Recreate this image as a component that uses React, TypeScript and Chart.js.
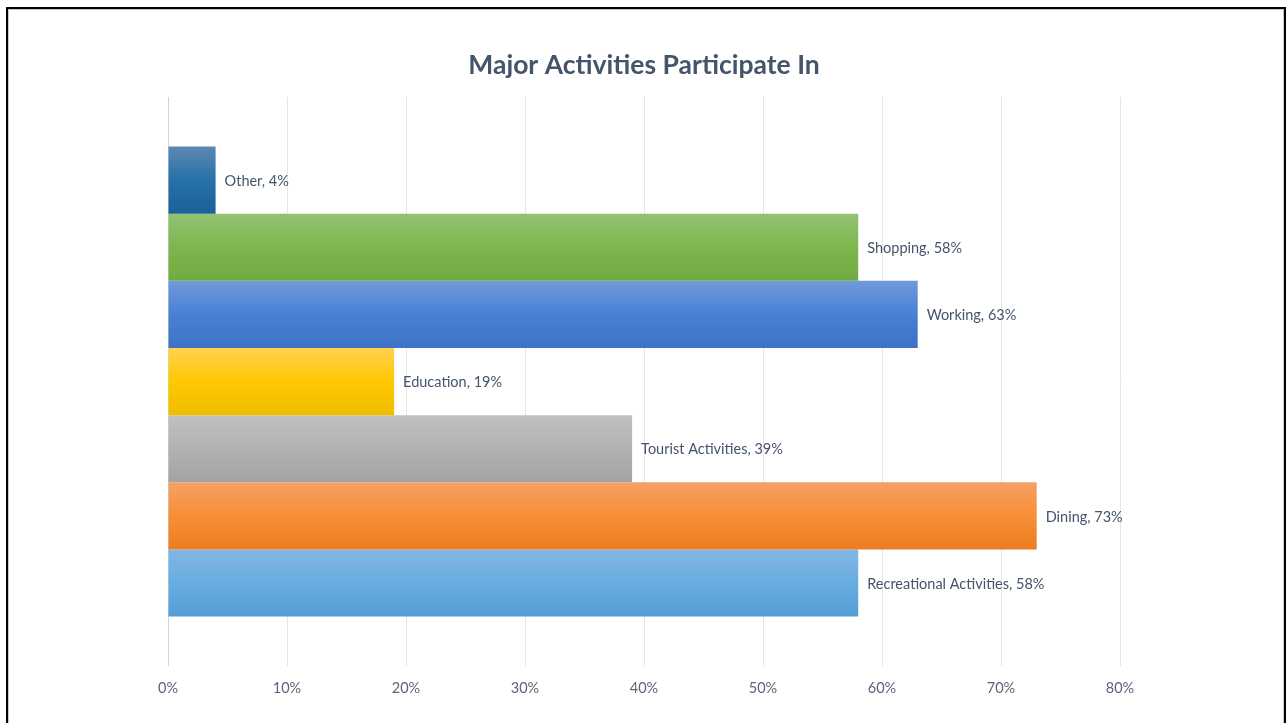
import React, { useEffect, useRef } from "react";
import { Chart, registerables } from "chart.js";

Chart.register(...registerables);

const TITLE = "Major Activities Participate In";
const ACTIVITIES = [
  "Other",
  "Shopping",
  "Working",
  "Education",
  "Tourist Activities",
  "Dining",
  "Recreational Activities",
];
const PERCENTS = [4, 58, 63, 19, 39, 73, 58];
const X_MIN = 0;
const X_MAX = 80;
const X_STEP = 10;

const TOP_COLORS = ["#5f88b3", "#93c272", "#7299dc", "#ffd150", "#c0c0c0", "#f6a065", "#83b6e3"];
const MID_COLORS = ["#2571a8", "#7eb64e", "#4a80d4", "#ffc800", "#b2b2b2", "#f78f36", "#68ade2"];
const BOTTOM_COLORS = ["#1a6198", "#70ab41", "#3d72c6", "#efbd00", "#a3a3a3", "#ec7c22", "#549cd5"];

const FONT = "Lato, 'Open Sans', sans-serif";
const TEXT_COLOR = "#44546A";
const CAT_PCT = 0.826;

export default function App() {
  const canvasRef = useRef<HTMLCanvasElement | null>(null);

  useEffect(() => {
    const canvas = canvasRef.current;
    if (!canvas) return;

    const gradientFor = (ctx: any) => {
      const chart = ctx.chart;
      const i = ctx.datasetIndex;
      const y = chart.scales && chart.scales.y;
      if (!y || y.top === undefined || ctx.type !== "data") return MID_COLORS[i];
      const center = y.getPixelForValue(0);
      const total = (y.bottom - y.top) * CAT_PCT;
      const h = total / ACTIVITIES.length;
      const top = center - total / 2 + i * h;
      const g = chart.ctx.createLinearGradient(0, top, 0, top + h);
      g.addColorStop(0, TOP_COLORS[i]);
      g.addColorStop(0.5, MID_COLORS[i]);
      g.addColorStop(1, BOTTOM_COLORS[i]);
      return g;
    };

    const labelPlugin = {
      id: "barLabels",
      afterDatasetsDraw(chart: any) {
        const c = chart.ctx;
        c.save();
        c.font = `14.5px ${FONT}`;
        c.fillStyle = TEXT_COLOR;
        c.textAlign = "left";
        c.textBaseline = "middle";
        chart.data.datasets.forEach((ds: any, i: number) => {
          const meta = chart.getDatasetMeta(i);
          const el = meta.data[0];
          if (!el) return;
          c.fillText(`${ds.label}, ${ds.data[0]}%`, el.x + 9, el.y + 1);
        });
        c.restore();
      },
    };

    const chart = new Chart(canvas, {
      type: "bar",
      data: {
        labels: [""],
        datasets: ACTIVITIES.map((name, i) => ({
          label: name,
          data: [PERCENTS[i]],
          backgroundColor: gradientFor,
          borderWidth: 0,
          barPercentage: 1,
          categoryPercentage: CAT_PCT,
        })),
      },
      options: {
        indexAxis: "y",
        responsive: false,
        devicePixelRatio: 1,
        animation: false,
        layout: { padding: { left: 168, right: 166, top: 0, bottom: 11.5 } },
        plugins: {
          legend: { display: false },
          tooltip: { enabled: false },
          title: {
            display: true,
            text: TITLE,
            color: TEXT_COLOR,
            font: { family: FONT, size: 26.5, weight: "bold" },
            padding: { top: 50, bottom: 15.2 },
          },
        },
        scales: {
          x: {
            type: "linear",
            min: X_MIN,
            max: X_MAX,
            ticks: {
              stepSize: X_STEP,
              color: "#5a6578",
              font: { family: FONT, size: 14.5 },
              padding: 14,
              callback: (v: any) => `${v}%`,
            },
            grid: {
              color: (ctx: any) => (ctx.index === 0 ? "#d4d4d4" : "#e6e6e6"),
              drawTicks: false,
              lineWidth: 1,
            },
            border: { display: false },
          },
          y: {
            type: "category",
            display: false,
            grid: { display: false },
          },
        },
      },
      plugins: [labelPlugin],
    });

    return () => chart.destroy();
  }, []);

  return (
    <>
      <canvas
        ref={canvasRef}
        width={1286}
        height={723}
        style={{ position: "fixed", left: 0, top: 0, width: 1286, height: 723, background: "#fff" }}
      />
      <div
        style={{
          position: "fixed",
          left: 6,
          top: 7,
          width: 1280,
          height: 740,
          boxSizing: "border-box",
          border: "2px solid #000",
          boxShadow: "inset 0 0 0 1px #c8c8c8",
          pointerEvents: "none",
        }}
      />
    </>
  );
}
